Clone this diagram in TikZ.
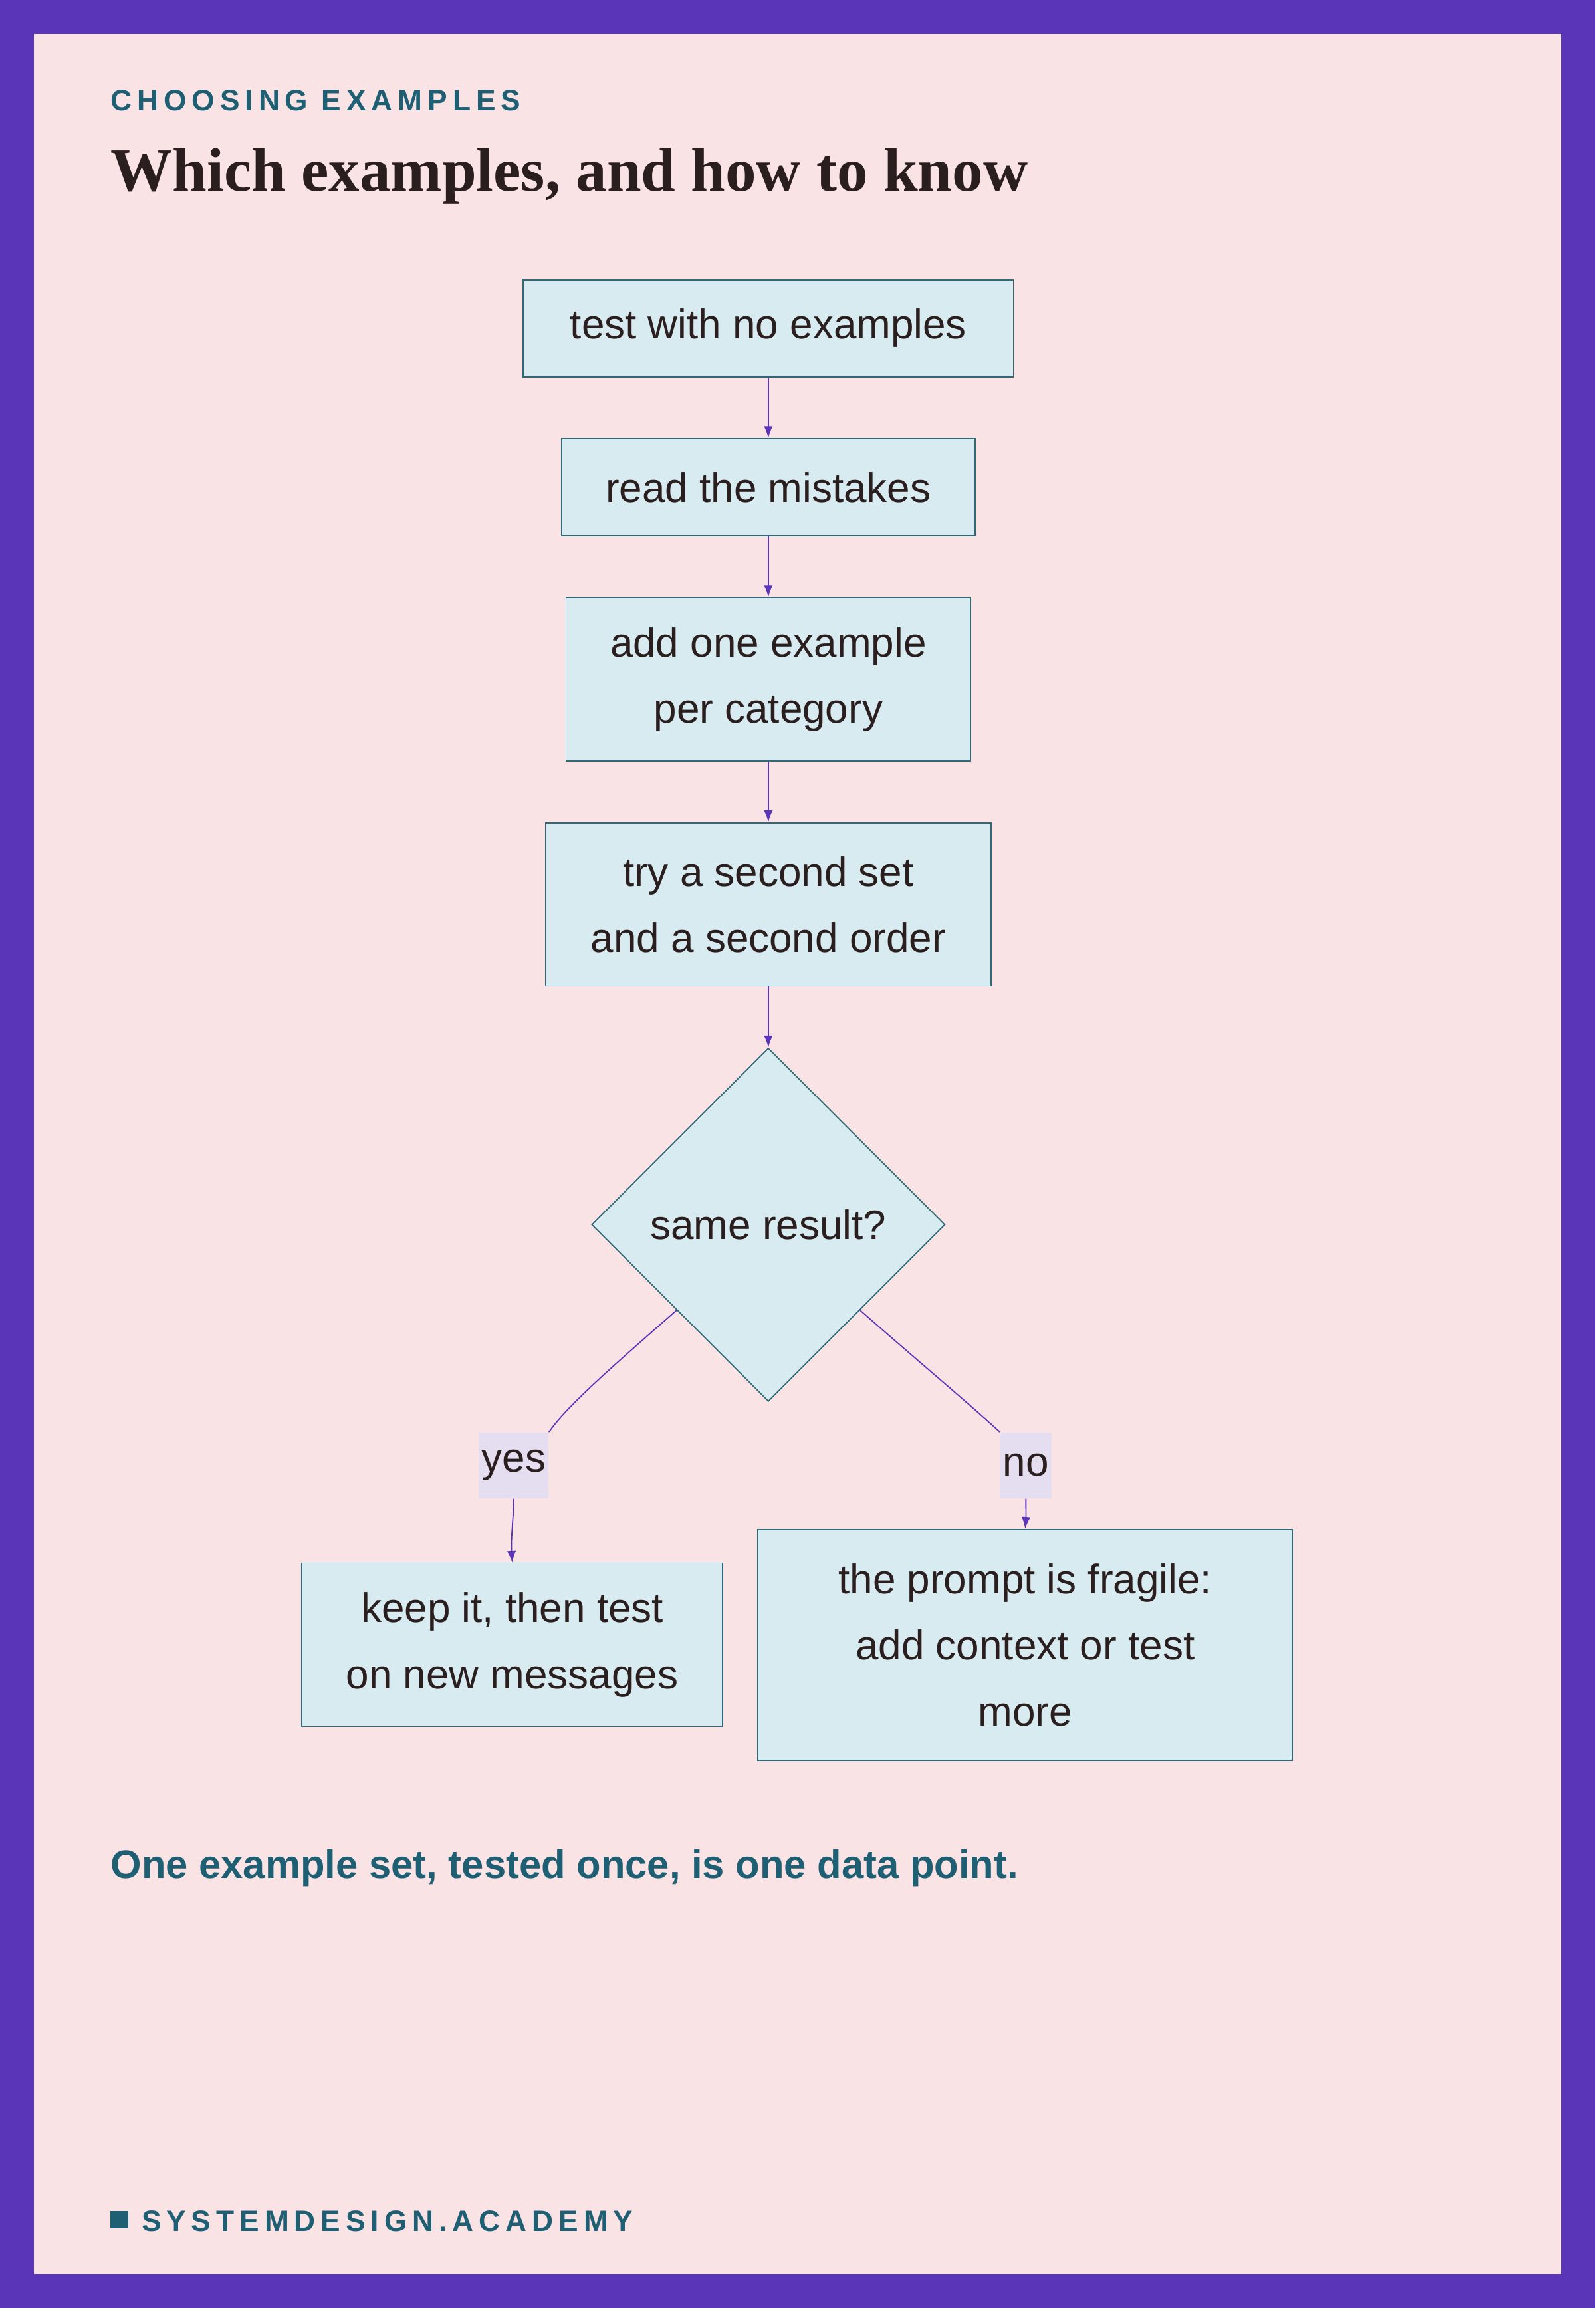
\documentclass[tikz,border=0pt]{standalone}
\usepackage{fontspec}
\setmainfont{Liberation Sans}
\newfontfamily\titlefont{Liberation Serif}
\newfontfamily\spacedfont[LetterSpace=18]{Liberation Sans}
\usetikzlibrary{shapes.geometric,arrows.meta}
\definecolor{frame}{HTML}{5A35B8}
\definecolor{bgpink}{HTML}{F9E3E5}
\definecolor{boxfill}{HTML}{D7EBF0}
\definecolor{boxline}{HTML}{2E6A78}
\definecolor{teal}{HTML}{1F5F74}
\definecolor{ink}{HTML}{2A1E1E}
\definecolor{lav}{HTML}{E5DDF0}
\begin{document}
\begin{tikzpicture}[x=1pt,y=-1pt,
  box/.style={draw=boxline,fill=boxfill,line width=0.8pt,align=center,
    font=\fontsize{28}{45}\selectfont,text=ink,inner sep=0pt},
  lab/.style={fill=lav,font=\fontsize{28}{34}\selectfont,text=ink,inner sep=2pt,minimum height=45,minimum width=32},
  edge/.style={draw=frame,line width=0.8pt,-{Latex[length=8pt,width=6pt]}}]
\useasboundingbox (0,0) rectangle (1084,1568);
\fill[frame] (0,0) rectangle (1084,1568);
\fill[bgpink] (23,23) rectangle (1061,1545);
\node[anchor=base west,text=teal,inner sep=0pt,font=\spacedfont\bfseries\fontsize{20}{24}\selectfont] (kick) at (75,75) {CHOOSING EXAMPLES};
\node[anchor=base west,text=ink,inner sep=0pt,font=\titlefont\bfseries\fontsize{42}{50}\selectfont] (title) at (75,130) {Which examples, and how to know};
\node[box,minimum width=333,minimum height=66] (b1) at (522,223) {test with no examples};
\node[box,minimum width=281,minimum height=66] (b2) at (522,331) {read the mistakes};
\node[box,minimum width=275,minimum height=111] (b3) at (522,461.5) {add one example\\per category};
\node[box,minimum width=303,minimum height=111] (b4) at (522,614.5) {try a second set\\and a second order};
\node[box,shape=diamond,aspect=1,minimum width=240,minimum height=240] (d) at (522,832) {same result?};
\node[box,minimum width=286,minimum height=111] (b5) at (348,1117.5) {keep it, then test\\on new messages};
\node[box,minimum width=363,minimum height=157] (b6) at (696.5,1117.5) {the prompt is fragile:\\add context or test\\more};
\node[lab] (yes) at (349,995.5) {yes};
\node[lab] (no) at (697,995.5) {no};
\draw[edge] (b1) -- (b2);
\draw[edge] (b2) -- (b3);
\draw[edge] (b3) -- (b4);
\draw[edge] (b4) -- (d);
\draw[draw=frame,line width=0.8pt] (d.-137) .. controls (420,925) and (385,955) .. (yes.north east);
\draw[edge] (yes.south) .. controls (349,1030) and (347,1045) .. (b5.north);
\draw[draw=frame,line width=0.8pt] (d.-43) .. controls (624,925) and (660,955) .. (no.north west);
\draw[edge] (no.south) .. controls (697,1025) and (697,1032) .. (b6.north);
\node[anchor=base west,text=teal,inner sep=0pt,font=\bfseries\fontsize{27}{32}\selectfont] (foot) at (75,1276) {One example set, tested once, is one data point.};
\fill[teal] (75,1502) rectangle (87,1514);
\node[anchor=base west,text=teal,inner sep=0pt,font=\spacedfont\bfseries\fontsize{20}{24}\selectfont] (brand) at (96,1516) {SYSTEMDESIGN.ACADEMY};
\end{tikzpicture}
\end{document}
